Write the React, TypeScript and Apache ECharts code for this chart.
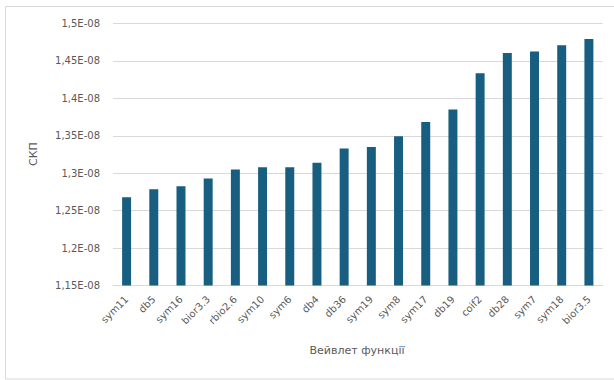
import React, { useEffect, useRef } from "react";
import * as echarts from "echarts";

const categories = [
  "sym11", "db5", "sym16", "bior3.3", "rbio2.6", "sym10", "sym6", "db4", "db36",
  "sym19", "sym8", "sym17", "db19", "coif2", "db28", "sym7", "sym18", "bior3.5",
];

const values = [
  1.268e-8, 1.2785e-8, 1.2825e-8, 1.293e-8, 1.305e-8, 1.308e-8, 1.308e-8, 1.314e-8, 1.333e-8,
  1.335e-8, 1.3495e-8, 1.3683e-8, 1.385e-8, 1.4335e-8, 1.4607e-8, 1.4625e-8, 1.471e-8, 1.4793e-8,
];

const yMin = 1.15e-8;
const yMax = 1.5e-8;
const yStep = 0.05e-8;

const xAxisTitle = "Вейвлет функції";
const yAxisTitle = "СКП";

const FONT = "DejaVu Sans, Liberation Sans, sans-serif";

function fmt(v: number): string {
  const m = Math.round((v / 1e-8) * 1000) / 1000;
  return String(m).replace(".", ",") + "E-08";
}

export default function App() {
  const ref = useRef<HTMLDivElement>(null);
  useEffect(() => {
    if (!ref.current) return;
    const chart = echarts.init(ref.current, null, { renderer: "svg" });
    chart.setOption({
      animation: false,
      backgroundColor: "#ffffff",
      textStyle: { fontFamily: FONT },
      graphic: [
        {
          type: "rect",
          shape: { x: 5.5, y: 6.5, width: 620, height: 372.5 },
          style: { fill: "none", stroke: "#d9d9d9", lineWidth: 1 },
          silent: true,
        },
        {
          type: "text",
          x: 33,
          y: 154,
          rotation: Math.PI / 2,
          style: {
            text: yAxisTitle,
            fill: "#595959",
            fontSize: 11,
            fontFamily: FONT,
            align: "center",
            verticalAlign: "middle",
          },
        },
        {
          type: "text",
          x: 357,
          y: 350,
          style: {
            text: xAxisTitle,
            fill: "#595959",
            fontSize: 11,
            fontFamily: FONT,
            align: "center",
            verticalAlign: "middle",
          },
        },
      ],
      grid: { left: 113, right: 11.5, top: 23.5, bottom: 94.5, containLabel: false },
      xAxis: {
        type: "category",
        data: categories,
        axisLine: { show: true, lineStyle: { color: "#d9d9d9", width: 1 } },
        axisTick: { show: false },
        axisLabel: {
          rotate: 45,
          color: "#595959",
          fontSize: 10,
          fontFamily: FONT,
          margin: 12,
          interval: 0,
        },
      },
      yAxis: {
        type: "value",
        min: yMin,
        max: yMax,
        interval: yStep,
        axisLine: { show: false },
        axisTick: { show: false },
        splitLine: { lineStyle: { color: "#d9d9d9", width: 1 } },
        axisLabel: {
          color: "#595959",
          fontSize: 10,
          fontFamily: FONT,
          margin: 13,
          formatter: fmt,
        },
      },
      series: [
        {
          type: "bar",
          data: values,
          barWidth: "33%",
          itemStyle: { color: "#175e80" },
        },
      ],
    });
    return () => chart.dispose();
  }, []);
  return (
    <div
      ref={ref}
      style={{ position: "fixed", left: 0, top: 0, width: 614, height: 380 }}
    />
  );
}
